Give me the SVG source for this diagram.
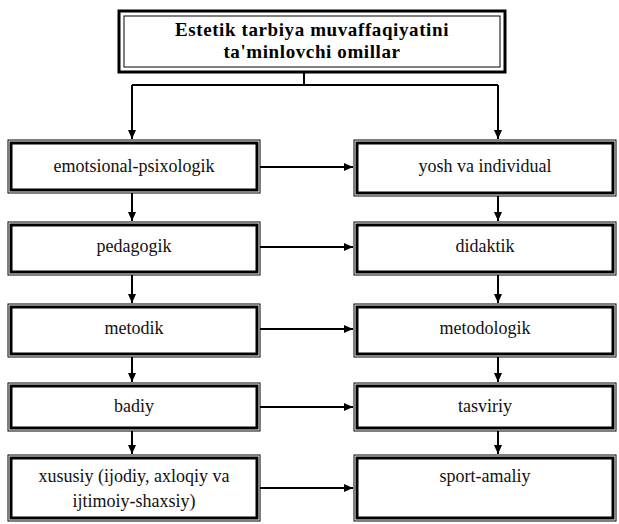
<svg xmlns="http://www.w3.org/2000/svg" width="619" height="524" viewBox="0 0 619 524">
<defs>
<marker id="ah" markerWidth="10" markerHeight="10" refX="9" refY="5" orient="auto" markerUnits="userSpaceOnUse">
<path d="M0,1 L9,5 L0,9 Z" fill="#000"/>
</marker>
<style>
.o{fill:none;stroke:#000;stroke-width:1}
.i{fill:#fff;stroke:#000;stroke-width:3}
text{font-family:'Liberation Serif','DejaVu Serif',serif}
.t{font-size:18px;fill:#111;text-anchor:middle}
.tb{font-size:19px;font-weight:bold;fill:#000;text-anchor:middle;letter-spacing:0.6px}
.c{fill:none;stroke:#000;stroke-width:2}
</style>
</defs>
<rect width="619" height="524" fill="#fff"/>
<g id="title">
<rect x="119" y="11" width="386" height="61" class="i"/>
<rect x="124" y="16" width="376" height="51" class="o"/>
<text x="312" y="36" class="tb" font-family="Liberation Serif, serif">Estetik tarbiya muvaffaqiyatini</text>
<text x="312" y="58" class="tb" font-family="Liberation Serif, serif">ta'minlovchi omillar</text>
</g>
<g id="n1"><rect x="11" y="143" width="246" height="47" class="i"/><rect x="8" y="140" width="252" height="53" class="o"/><text x="134" y="172" class="t" font-family="Liberation Serif, serif">emotsional-psixologik</text></g>
<g id="n2"><rect x="11" y="225" width="246" height="47" class="i"/><rect x="8" y="222" width="252" height="53" class="o"/><text x="134" y="252" class="t" font-family="Liberation Serif, serif">pedagogik</text></g>
<g id="n3"><rect x="11" y="307" width="246" height="47" class="i"/><rect x="8" y="304" width="252" height="53" class="o"/><text x="134" y="334" class="t" font-family="Liberation Serif, serif">metodik</text></g>
<g id="n4"><rect x="11" y="386" width="246" height="42" class="i"/><rect x="8" y="383" width="252" height="48" class="o"/><text x="134" y="412" class="t" font-family="Liberation Serif, serif">badiy</text></g>
<g id="n5"><rect x="11" y="458" width="246" height="60" class="i"/><rect x="8" y="455" width="252" height="66" class="o"/><text x="134" y="482" class="t" font-family="Liberation Serif, serif">xususiy (ijodiy, axloqiy va</text><text x="134" y="507" class="t" font-family="Liberation Serif, serif">ijtimoiy-shaxsiy)</text></g>
<g id="m1"><rect x="357" y="143" width="256" height="50" class="i"/><rect x="354" y="140" width="262" height="56" class="o"/><text x="485" y="172" class="t" font-family="Liberation Serif, serif">yosh va individual</text></g>
<g id="m2"><rect x="357" y="225" width="256" height="47" class="i"/><rect x="354" y="222" width="262" height="53" class="o"/><text x="485" y="252" class="t" font-family="Liberation Serif, serif">didaktik</text></g>
<g id="m3"><rect x="357" y="307" width="256" height="47" class="i"/><rect x="354" y="304" width="262" height="53" class="o"/><text x="485" y="334" class="t" font-family="Liberation Serif, serif">metodologik</text></g>
<g id="m4"><rect x="357" y="386" width="256" height="42" class="i"/><rect x="354" y="383" width="262" height="48" class="o"/><text x="485" y="412" class="t" font-family="Liberation Serif, serif">tasviriy</text></g>
<g id="m5"><rect x="357" y="458" width="256" height="60" class="i"/><rect x="354" y="455" width="262" height="66" class="o"/><text x="485" y="482" class="t" font-family="Liberation Serif, serif">sport-amaliy</text></g>
<g id="connectors">
<path d="M304,72 V85 M132,85 H498" class="c"/>
<path d="M132,85 V139" class="c" marker-end="url(#ah)"/>
<path d="M498,85 V139" class="c" marker-end="url(#ah)"/>
<path d="M132,193 V221" class="c" marker-end="url(#ah)"/>
<path d="M132,275 V303" class="c" marker-end="url(#ah)"/>
<path d="M132,357 V382" class="c" marker-end="url(#ah)"/>
<path d="M132,431 V454" class="c" marker-end="url(#ah)"/>
<path d="M498,196 V221" class="c" marker-end="url(#ah)"/>
<path d="M498,275 V303" class="c" marker-end="url(#ah)"/>
<path d="M498,357 V382" class="c" marker-end="url(#ah)"/>
<path d="M498,431 V454" class="c" marker-end="url(#ah)"/>
<path d="M260,167 H353" class="c" marker-end="url(#ah)"/>
<path d="M260,247 H353" class="c" marker-end="url(#ah)"/>
<path d="M260,329 H353" class="c" marker-end="url(#ah)"/>
<path d="M260,407 H353" class="c" marker-end="url(#ah)"/>
<path d="M260,488 H353" class="c" marker-end="url(#ah)"/>
</g>
</svg>
